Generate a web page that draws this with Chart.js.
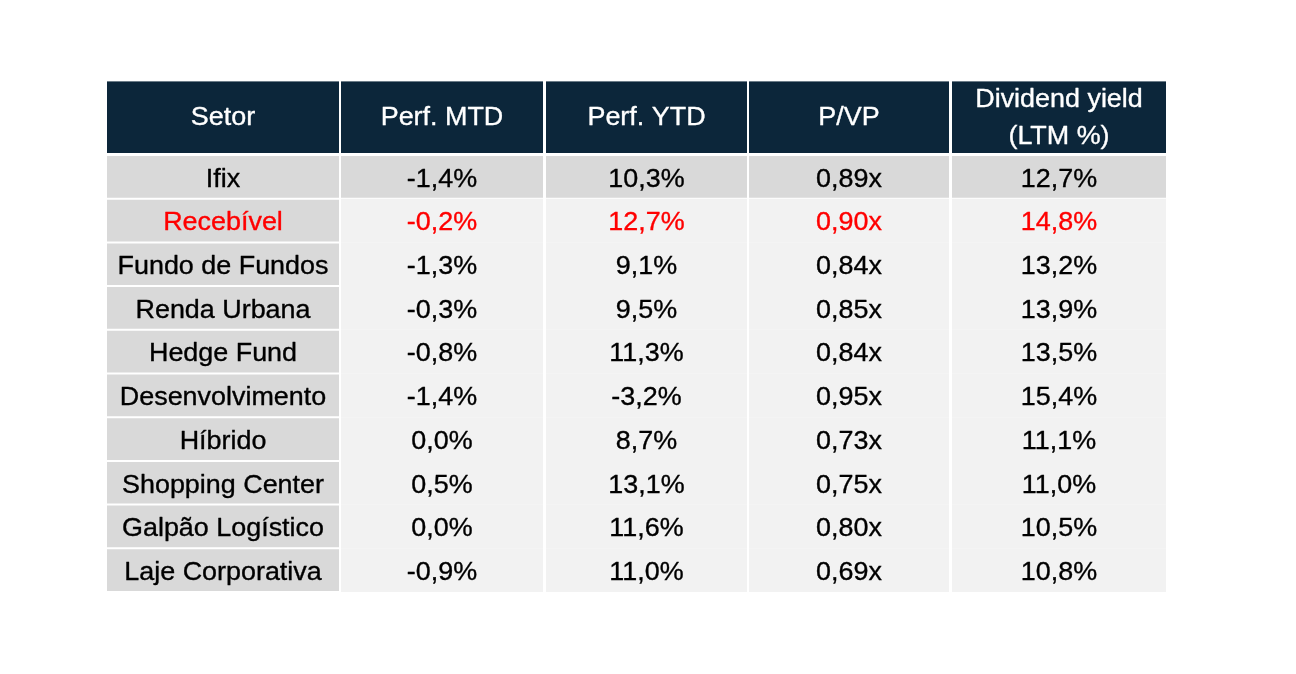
<!DOCTYPE html>
<html>
<head>
<meta charset="utf-8">
<script src="https://cdn.jsdelivr.net/npm/chart.js@4/dist/chart.umd.min.js"></script>
<style>
  html, body { margin: 0; padding: 0; background: #ffffff; }
  #wrap { width: 1296px; height: 674px; position: relative; }
</style>
</head>
<body>
<div id="wrap"><canvas id="c"></canvas></div>
<script>
// ---- data ----
const headers = ['Setor', 'Perf. MTD', 'Perf. YTD', 'P/VP', ['Dividend yield', '(LTM %)']];
const sectors = ['Ifix', 'Recebível', 'Fundo de Fundos', 'Renda Urbana', 'Hedge Fund',
  'Desenvolvimento', 'Híbrido', 'Shopping Center', 'Galpão Logístico', 'Laje Corporativa'];
const perfMTD = [-1.4, -0.2, -1.3, -0.3, -0.8, -1.4, 0.0, 0.5, 0.0, -0.9];
const perfYTD = [10.3, 12.7, 9.1, 9.5, 11.3, -3.2, 8.7, 13.1, 11.6, 11.0];
const pvp = [0.89, 0.90, 0.84, 0.85, 0.84, 0.95, 0.73, 0.75, 0.80, 0.69];
const dividendYield = [12.7, 14.8, 13.2, 13.9, 13.5, 15.4, 11.1, 11.0, 10.5, 10.8];
const benchmarkRow = 'Ifix';
const highlightRow = 'Recebível';

// ---- layout / style ----
const colEdges = [[0, 232], [234, 436], [439, 640], [642, 842], [845, 1059]];
const NAVY = '#0c263a', GRAY = '#d9d9d9', LIGHT = '#f2f2f2', RED = '#ff0000', INK = '#000000';
const FONT = '26px "Liberation Sans", Arial, sans-serif';
const STRETCH = 1.035;
const HEADER_H = 71.6, HEADER_GAP = 2;

const pct = v => v.toFixed(1).replace('.', ',') + '%';
const mult = v => v.toFixed(2).replace('.', ',') + 'x';
const cellText = [
  sectors,
  perfMTD.map(pct),
  perfYTD.map(pct),
  pvp.map(mult),
  dividendYield.map(pct)
];

// ---- datasets: cell backgrounds as floating bars ----
const datasets = [];
const common = { grouped: false, borderWidth: 0, borderSkipped: false, inflateAmount: 0, barPercentage: 1 };
colEdges.forEach((edge, j) => {
  if (j === 0) {
    datasets.push(Object.assign({}, common, {
      data: sectors.map(() => edge), backgroundColor: GRAY, categoryPercentage: 0.954
    }));
  } else {
    datasets.push(Object.assign({}, common, {
      data: sectors.map(s => s === benchmarkRow ? edge : null), backgroundColor: GRAY, categoryPercentage: 0.954
    }));
    datasets.push(Object.assign({}, common, {
      data: sectors.map(s => s === benchmarkRow ? null : edge), backgroundColor: LIGHT, categoryPercentage: 1
    }));
  }
});

function drawText(ctx, txt, x, yBase, color) {
  ctx.save();
  ctx.translate(x, yBase);
  ctx.scale(STRETCH, 1);
  ctx.fillStyle = color;
  ctx.strokeStyle = color;
  ctx.lineWidth = 0.35;
  ctx.lineJoin = 'round';
  ctx.font = FONT;
  ctx.textAlign = 'center';
  ctx.textBaseline = 'alphabetic';
  ctx.fillText(txt, 0, 0);
  ctx.strokeText(txt, 0, 0);
  ctx.restore();
}

const tablePlugin = {
  id: 'tablePlugin',
  beforeDatasetsDraw(chart) {
    const { ctx, chartArea, scales: { x } } = chart;
    const top = chartArea.top - HEADER_GAP - HEADER_H;
    ctx.save();
    ctx.fillStyle = NAVY;
    colEdges.forEach(e => {
      const x0 = x.getPixelForValue(e[0]), x1 = x.getPixelForValue(e[1]);
      ctx.fillRect(x0, top, x1 - x0, HEADER_H);
    });
    ctx.restore();
    const capHalf = 9.3;
    const mid = top + HEADER_H / 2 - 1.3;
    headers.forEach((h, j) => {
      const cx = x.getPixelForValue((colEdges[j][0] + colEdges[j][1]) / 2);
      if (Array.isArray(h)) {
        const lh = 36.7;
        h.forEach((line, k) => {
          const cy = mid + (k - (h.length - 1) / 2) * lh;
          drawText(ctx, line, cx, cy + capHalf, '#ffffff');
        });
      } else {
        drawText(ctx, h, cx, mid + capHalf, '#ffffff');
      }
    });
  },
  afterDatasetsDraw(chart) {
    const { ctx, scales: { x, y } } = chart;
    sectors.forEach((s, i) => {
      const cy = y.getPixelForValue(i);
      const color = s === highlightRow ? RED : INK;
      cellText.forEach((col, j) => {
        const cx = x.getPixelForValue((colEdges[j][0] + colEdges[j][1]) / 2);
        drawText(ctx, col[i], cx, cy + 9.8, color);
      });
    });
  }
};

new Chart(document.getElementById('c'), {
  type: 'bar',
  data: { labels: sectors, datasets },
  options: {
    indexAxis: 'y',
    responsive: true,
    maintainAspectRatio: false,
    animation: false,
    events: [],
    layout: { padding: { left: 107, right: 130, top: 155, bottom: 82 } },
    plugins: { legend: { display: false }, tooltip: { enabled: false } },
    scales: {
      x: { type: 'linear', min: 0, max: 1059, display: false, grid: { display: false } },
      y: { type: 'category', display: false, grid: { display: false } }
    }
  },
  plugins: [tablePlugin]
});
</script>
</body>
</html>
